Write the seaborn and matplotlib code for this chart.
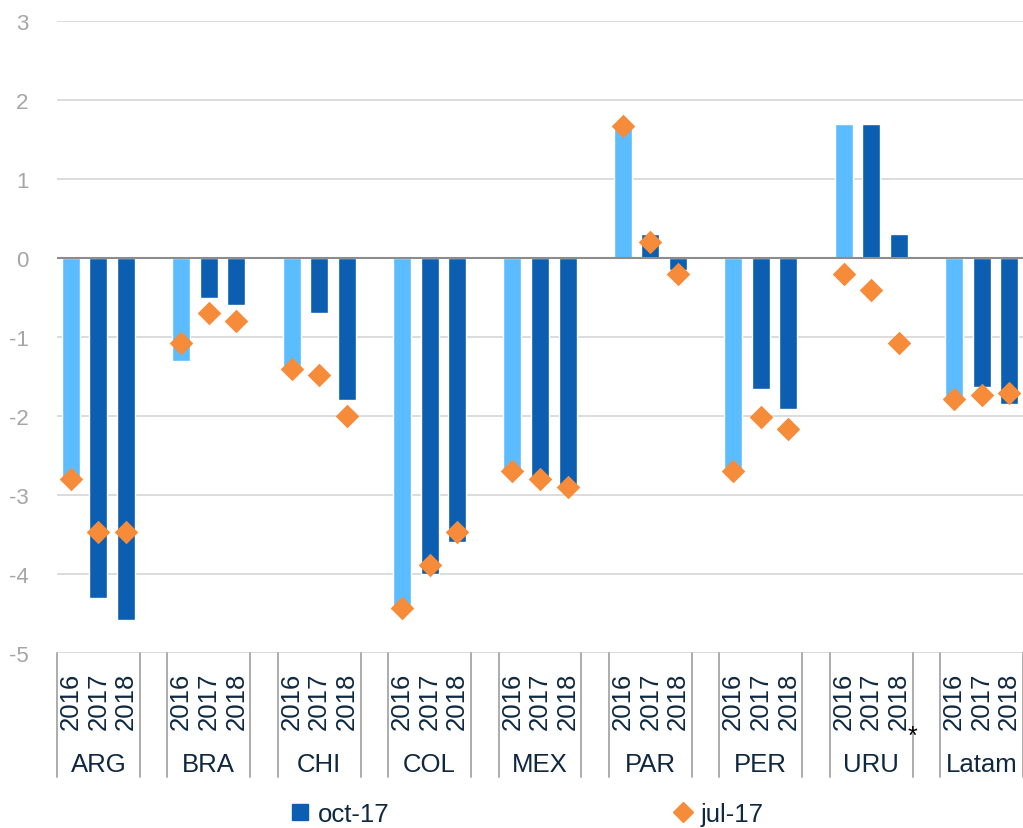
"""Oct-17 vs jul-17 forecasts by country and year: bars plus diamond markers."""

import matplotlib.pyplot as plt
import numpy as np
import pandas as pd
import seaborn as sns
from matplotlib.lines import Line2D
from matplotlib.transforms import blended_transform_factory

countries = ["ARG", "BRA", "CHI", "COL", "MEX", "PAR", "PER", "URU", "Latam"]
years = ["2016", "2017", "2018"]

# oct-17 (bars), three years per country
oct17 = [
    -2.80, -4.30, -4.58,  # ARG
    -1.30, -0.50, -0.60,  # BRA
    -1.38, -0.70, -1.80,  # CHI
    -4.42, -4.00, -3.60,  # COL
    -2.67, -2.77, -2.88,  # MEX
    1.67, 0.30, -0.15,    # PAR
    -2.67, -1.66, -1.91,  # PER
    1.70, 1.70, 0.30,     # URU
    -1.76, -1.63, -1.85,  # Latam
]
# jul-17 (diamonds)
jul17 = [
    -2.80, -3.47, -3.47,
    -1.08, -0.70, -0.80,
    -1.40, -1.48, -2.00,
    -4.43, -3.88, -3.47,
    -2.70, -2.80, -2.90,
    1.67, 0.20, -0.20,
    -2.70, -2.01, -2.16,
    -0.20, -0.40, -1.08,
    -1.78, -1.73, -1.71,
]

LIGHT = "#5BBCFF"
DARK = "#0B5EB0"
ORANGE = "#F68B3A"
NAVY = "#0E2841"

df = pd.DataFrame({
    "country": np.repeat(countries, len(years)),
    "year": years * len(countries),
    "oct17": oct17,
    "jul17": jul17,
})
df["key"] = df["country"] + " " + df["year"]

# one empty slot between country groups, like the source chart
order = []
for i, c in enumerate(countries):
    order += [f"{c} {y}" for y in years]
    if i < len(countries) - 1:
        order.append(f"gap{i}")

sns.set_style("white")
plt.rcParams["font.family"] = ["Liberation Sans", "DejaVu Sans"]
plt.rcParams["axes.unicode_minus"] = False

fig = plt.figure(figsize=(10.23, 8.29), dpi=100)
ax = fig.add_axes([57 / 1023, 175 / 829, 966 / 1023, 632 / 829])

sns.barplot(
    data=df, x="key", y="oct17", hue="year", order=order,
    palette={"2016": LIGHT, "2017": DARK, "2018": DARK},
    dodge=False, width=0.65, saturation=1, legend=False, ax=ax, zorder=2,
)
sns.stripplot(
    data=df, x="key", y="jul17", order=order, jitter=False, marker="D",
    color=ORANGE, size=12, linewidth=0, ax=ax, zorder=3,
)

ax.set_xlim(-0.5, len(order) - 0.5)
ax.set_ylim(-5, 3)
ax.set_yticks(range(-5, 4))
ax.yaxis.grid(True, color="#D9D9D9", lw=1.3, zorder=0)
ax.set_axisbelow(True)
ax.axhline(0, color="#8C8C8C", lw=1.5, zorder=2.5)
for s in ax.spines.values():
    s.set_visible(False)
ax.tick_params(left=False, bottom=False, labelbottom=False, pad=17)
ax.tick_params(axis="y", labelsize=16, labelcolor="#A6A6A6")
ax.set_xlabel("")
ax.set_ylabel("")

# two-level category axis drawn by hand
trans = blended_transform_factory(ax.transData, fig.transFigure)
for i, key in enumerate(order):
    if key.startswith("gap"):
        continue
    ax.text(i, 0.1544, key.split()[1], rotation=90, transform=trans,
            ha="center", va="center", fontsize=18.5, color=NAVY)
for g, c in enumerate(countries):
    start = g * 4
    ax.text(start + 1, 0.0772, c, transform=trans, ha="center", va="center",
            fontsize=18.5, color=NAVY)
    for xe in (start - 0.5, start + 2.5):
        ax.add_line(Line2D([xe, xe], [0.2111, 0.0615], transform=trans,
                           color="#A6A6A6", lw=1.3, clip_on=False))
ax.text(30.5, 0.111, "*", transform=trans, ha="center", va="center",
        fontsize=18, color="black")

handles = [
    Line2D([], [], ls="", marker="s", color=DARK, markersize=11),
    Line2D([], [], ls="", marker="D", color=ORANGE, markersize=10),
]
fig.legend(handles, ["oct-17", "jul-17"], loc="center",
           bbox_to_anchor=(0.515, 0.017), ncol=2, frameon=False,
           columnspacing=11, handletextpad=0.3, handlelength=0.8,
           fontsize=18.5, labelcolor=NAVY)

fig.savefig("out.png", dpi=100)
